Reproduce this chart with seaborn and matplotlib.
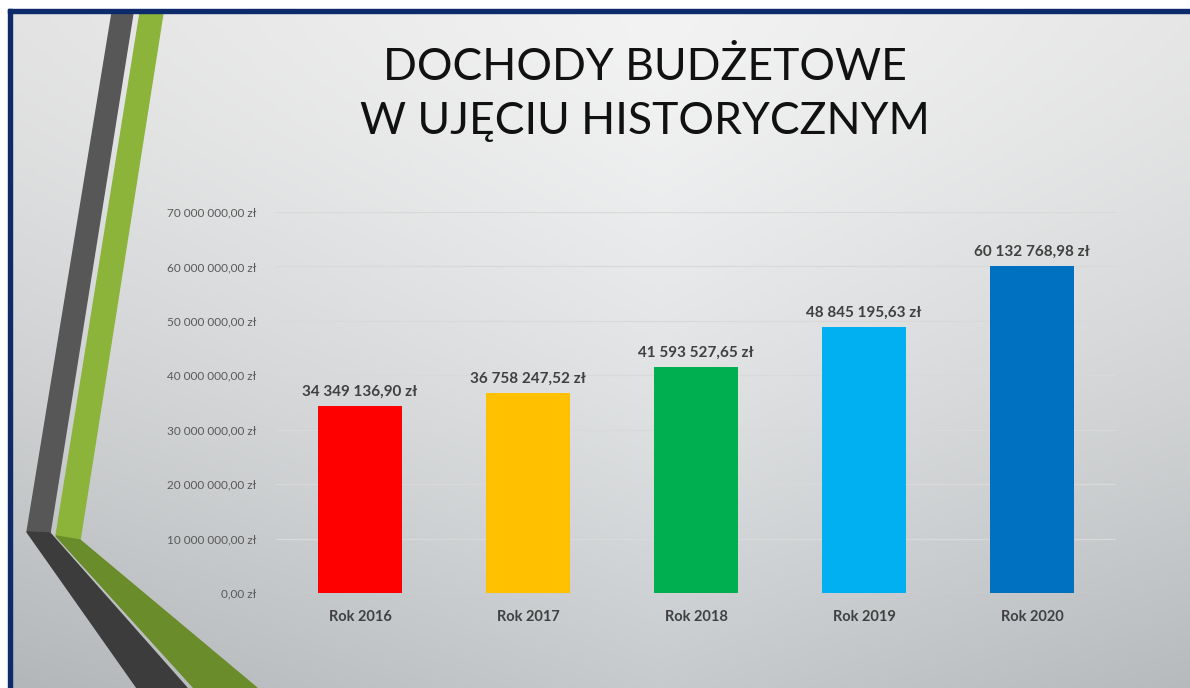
import numpy as np
import pandas as pd
import matplotlib
matplotlib.use("Agg")
import matplotlib.pyplot as plt
from matplotlib.patches import Polygon, Rectangle
from matplotlib.ticker import FuncFormatter
import seaborn as sns

# %% data
years = ["Rok 2016", "Rok 2017", "Rok 2018", "Rok 2019", "Rok 2020"]
income = [34349136.90, 36758247.52, 41593527.65, 48845195.63, 60132768.98]
bar_colors = ["#FF0000", "#FFC000", "#00B050", "#00B0F0", "#0070C0"]
y_ticks = [0, 10e6, 20e6, 30e6, 40e6, 50e6, 60e6, 70e6]
title_lines = ["DOCHODY BUDŻETOWE", "W UJĘCIU HISTORYCZNYM"]

df = pd.DataFrame({"rok": years, "dochody": income})


def zl(v, pos=None):
    s = f"{v:,.2f}".replace(",", " ").replace(".", ",")
    return s + " zł"


sns.set_theme(style="white")
plt.rcParams["font.family"] = ["Lato", "DejaVu Sans"]

W, H = 1190, 688
fig = plt.figure(figsize=(W / 100, H / 100), dpi=100, facecolor="white")

# %% slide background (gradient, frame, decorative stripes)
bg = fig.add_axes([0, 0, 1, 1])
bg.set_xlim(0, W)
bg.set_ylim(H, 0)
bg.axis("off")

xx, yy = np.meshgrid(np.linspace(0, 1, 300), np.linspace(0, 1, 200))
v = 243 - 38 * yy ** 1.5 - 36 * np.abs(xx - 0.55) * (0.4 + 0.6 * yy + 0.4 * (1 - yy))
tint = 6 * yy
img = np.dstack([v - tint, v - tint * 0.4, v]) / 255.0
bg.imshow(np.clip(img, 0, 1), extent=[12, W, H, 13], aspect="auto", zorder=0)

bg.add_patch(Rectangle((8, 9), 4, H, color="#0d2b6b", zorder=2))
bg.add_patch(Rectangle((8, 9), W, 4, color="#0d2b6b", zorder=2))

bg.add_patch(Polygon([(112, 13), (133, 13), (50, 533), (27, 532)], color="#575757", zorder=1))
bg.add_patch(Polygon([(27, 532), (50, 533), (187, 688), (137, 688)], color="#3c3c3c", zorder=1))
bg.add_patch(Polygon([(140, 13), (163, 13), (80, 540), (56, 536)], color="#8cb43b", zorder=1))
bg.add_patch(Polygon([(56, 536), (80, 540), (257, 688), (194, 688)], color="#6a8c2a", zorder=1))

bg.text(645, 67, title_lines[0], ha="center", va="center", fontsize=32,
        fontweight="normal", color="#111111")
bg.text(645, 121, title_lines[1], ha="center", va="center", fontsize=32,
        fontweight="normal", color="#111111")

# %% chart
ax = fig.add_axes([276 / W, 1 - 593 / H, 840 / W, (593 - 212) / H])
ax.patch.set_alpha(0)
sns.barplot(data=df, x="rok", y="dochody", hue="rok", palette=bar_colors,
            width=0.5, saturation=1, linewidth=0, legend=False, ax=ax, zorder=3)

ax.set_xlim(-0.5, 4.5)
ax.set_ylim(0, 70e6)
ax.set_yticks(y_ticks)
ax.yaxis.set_major_formatter(FuncFormatter(zl))
ax.grid(axis="y", color="#d9d9d9", linewidth=0.9, zorder=0)
ax.set_axisbelow(True)
for s in ax.spines.values():
    s.set_visible(False)
ax.tick_params(axis="y", length=0, pad=14, labelsize=8.5, labelcolor="#595959")
ax.tick_params(axis="x", length=0, pad=12, labelsize=10.5, labelcolor="#404040")
for lbl in ax.get_xticklabels():
    lbl.set_fontweight("bold")
ax.set_xlabel("")
ax.set_ylabel("")

for cont, val in zip(ax.containers, income):
    ax.bar_label(cont, labels=[zl(val)], padding=5, fontsize=11,
                 fontweight="bold", color="#404040")

plt.savefig("out.png", dpi=100, facecolor="white")
